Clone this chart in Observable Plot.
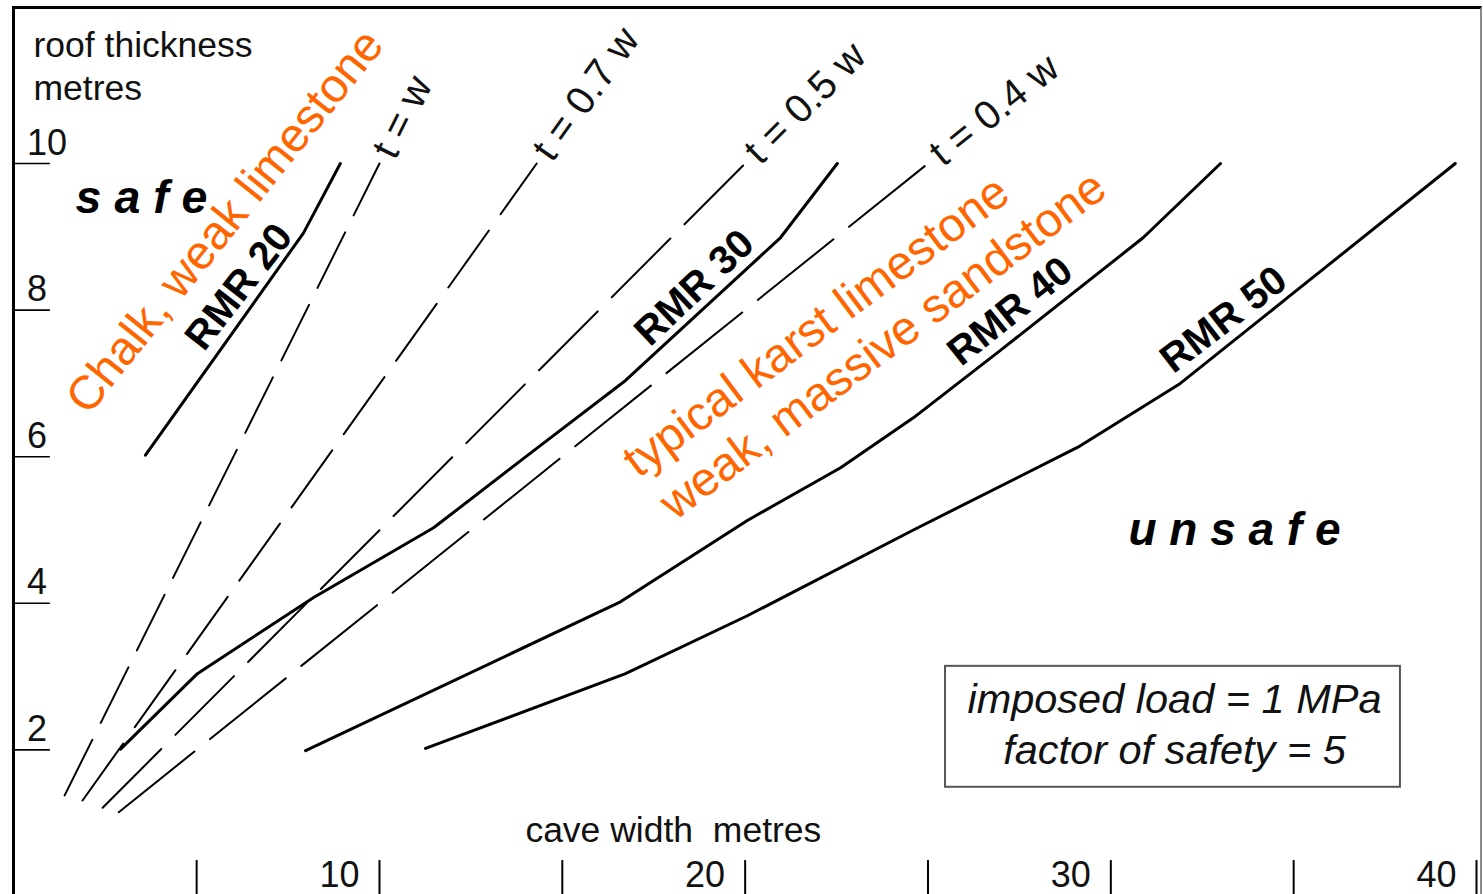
<!DOCTYPE html>
<html><head><meta charset="utf-8">
<script src="https://cdn.jsdelivr.net/npm/d3@7"></script>
<script src="https://cdn.jsdelivr.net/npm/@observablehq/plot@0.6"></script>
<style>
html,body{margin:0;padding:0;background:#fff;}
#wrap{position:relative;width:1483px;height:894px;overflow:hidden;}
#border{position:absolute;left:12px;top:6px;width:1470px;height:910px;border-top:3px solid #000;border-left:3px solid #000;border-right:2px solid #8a8a8a;box-sizing:border-box;pointer-events:none;}
</style></head><body><div id="wrap"><div id="border"></div></div>
<script>
// ---------- data ----------
const xTicks = [5, 10, 15, 20, 25, 30, 35, 40];
const xTickLabels = [10, 20, 30, 40];
const yTicks = [2, 4, 6, 8, 10];

// solid RMR curves: cave width w (m) vs roof thickness t (m)
const rmrNames = ["RMR 20", "RMR 30", "RMR 40", "RMR 50"];
const rmr20W = [3.60, 7.92, 8.93];
const rmr20T = [6.02, 9.05, 10.0];
const rmr30W = [2.92, 5.02, 8.20, 11.48, 14.21, 16.73, 20.97, 22.52];
const rmr30T = [2.01, 3.04, 4.08, 5.03, 6.08, 7.04, 8.99, 10.0];
const rmr40W = [7.98, 16.59, 20.06, 22.61, 24.60, 26.98, 30.89, 33.00];
const rmr40T = [1.99, 4.02, 5.13, 5.85, 6.53, 7.45, 8.99, 10.0];
const rmr50W = [11.26, 16.73, 20.06, 24.60, 29.10, 31.90, 34.91, 39.42];
const rmr50T = [2.02, 3.04, 3.83, 5.00, 6.13, 7.00, 8.20, 10.0];

// dashed t = k·w guide lines (start and end points)
const dashNames = ["t = w", "t = 0.7 w", "t = 0.5 w", "t = 0.4 w"];
const dashStartW = [1.39, 1.88, 2.43, 2.87];
const dashStartT = [1.38, 1.31, 1.21, 1.15];
const dashEndW = [10.0, 14.3, 20.0, 25.0];
const dashEndT = [10.0, 10.0, 10.0, 10.0];

// label anchor positions (data units) and angles (deg)
const rmrLabelW = [5.20, 17.40, 25.90, 31.71];
const rmrLabelT = [7.42, 7.49, 7.22, 7.12];
const rmrLabelAngle = [52, 43.5, 38.7, 37.6];

const rockTexts = ["Chalk, weak limestone", "typical karst limestone", "weak, massive sandstone"];
const rockW = [2.04, 17.08, 18.08];
const rockT = [6.55, 5.70, 5.12];
const rockAngle = [51.3, 36.8, 37.0];

const boxLines = ["imposed load = 1 MPa", "factor of safety = 5"];
const boxLineT = [2.50, 1.81];
const boxCenterW = 31.74;
const boxW = [25.48, 37.92];
const boxT = [1.49, 3.14];

// ---------- build ----------
const xDomain = [0, 40], xRange = [13.3, 1476];
const yDomain = [0, 10], yRange = [896, 163];
const kx = (xRange[1] - xRange[0]) / (xDomain[1] - xDomain[0]);
const ky = (yRange[0] - yRange[1]) / (yDomain[1] - yDomain[0]);

const rmrSeries = [[rmr20W, rmr20T], [rmr30W, rmr30T], [rmr40W, rmr40T], [rmr50W, rmr50T]];
const rmrRows = rmrSeries.flatMap(([W, T], i) => W.map((w, j) => ({name: rmrNames[i], w, t: T[j]})));

const dashPatterns = ["62,19", "70,20", "83,20", "97,20"];
const dashMarks = dashNames.map((n, i) =>
  Plot.line([{w: dashStartW[i], t: dashStartT[i]}, {w: dashEndW[i], t: dashEndT[i]}],
    {x: "w", y: "t", stroke: "#000", strokeWidth: 2, strokeDasharray: dashPatterns[i]}));

// labels continue along each dashed line, a small gap past its end
const gapPx = 9;
const dashLabelRows = dashNames.map((n, i) => {
  const dxp = (dashEndW[i] - dashStartW[i]) * kx;
  const dyp = (dashEndT[i] - dashStartT[i]) * ky;
  const a = Math.atan2(dyp, dxp);
  return {text: n, w: dashEndW[i] + Math.cos(a) * gapPx / kx, t: dashEndT[i] + Math.sin(a) * gapPx / ky, angle: a * 180 / Math.PI};
});

const FONT = "Liberation Sans, Arial, Helvetica, sans-serif";

const marks = [
  // y ticks
  Plot.ruleY(yTicks, {y: d => d, x1: 0, x2: 1.0, stroke: "#000", strokeWidth: 1.6}),
  Plot.text(yTicks, {y: d => d, x: 0.36, text: d => String(d), textAnchor: "start", lineAnchor: "bottom", dy: -9, fontSize: 36, fill: "#111"}),
  // x ticks
  Plot.ruleX(xTicks, {x: d => d, y1: 0, y2: 0.49, stroke: "#000", strokeWidth: 2}),
  Plot.text(xTickLabels, {x: d => d, y: 0.123, text: d => String(d), textAnchor: "end", lineAnchor: "bottom", dx: -20, fontSize: 36, fill: "#111"}),
  // axis titles
  Plot.text(["roof thickness"], {x: 0.54, y: 11.45, text: d => d, textAnchor: "start", lineAnchor: "bottom", fontSize: 35.5, fill: "#111"}),
  Plot.text(["metres"], {x: 0.54, y: 10.86, text: d => d, textAnchor: "start", lineAnchor: "bottom", fontSize: 35.5, fill: "#111"}),
  Plot.text(["cave width  metres"], {x: 13.99, y: 0.737, text: d => d, textAnchor: "start", lineAnchor: "bottom", fontSize: 35.5, fill: "#111"}),
  // dashed guides
  ...dashMarks,
  Plot.text(dashLabelRows, {x: "w", y: "t", text: "text", rotate: d => -d.angle, textAnchor: "start", lineAnchor: "middle", fontSize: 40, fill: "#111"}),
  // RMR curves
  Plot.line(rmrRows, {x: "w", y: "t", z: "name", stroke: "#000", strokeWidth: 3, strokeLinejoin: "round", strokeLinecap: "round"}),
  Plot.text(rmrNames.map((n, i) => ({n, w: rmrLabelW[i], t: rmrLabelT[i], a: rmrLabelAngle[i]})),
    {x: "w", y: "t", text: "n", rotate: d => -d.a, textAnchor: "start", lineAnchor: "bottom", fontSize: 40, fontWeight: "bold", fill: "#000"}),
  // safe / unsafe
  Plot.text(["s a f e"], {x: 1.69, y: 9.33, text: d => d, textAnchor: "start", lineAnchor: "bottom", fontSize: 46.5, fontWeight: "bold", fontStyle: "italic", fill: "#000"}),
  Plot.text(["u n s a f e"], {x: 30.48, y: 4.79, text: d => d, textAnchor: "start", lineAnchor: "bottom", fontSize: 46, fontWeight: "bold", fontStyle: "italic", fill: "#000"}),
  // rock type annotations
  Plot.text(rockTexts.map((s, i) => ({s, w: rockW[i], t: rockT[i], a: rockAngle[i]})),
    {x: "w", y: "t", text: "s", rotate: d => -d.a, textAnchor: "start", lineAnchor: "bottom", fontSize: 47.5, fill: "#ff6600"}),
  // box
  Plot.rect([{x1: boxW[0], x2: boxW[1], y1: boxT[0], y2: boxT[1]}], {x1: "x1", x2: "x2", y1: "y1", y2: "y2", fill: "none", stroke: "#555", strokeWidth: 2}),
  Plot.text(boxLines.map((s, i) => ({s, t: boxLineT[i]})), {x: boxCenterW, y: "t", text: "s", textAnchor: "middle", lineAnchor: "bottom", fontSize: 41.5, fontStyle: "italic", fill: "#111"})
];

const chart = Plot.plot({
  width: 1483,
  height: 894,
  marginTop: 0, marginRight: 0, marginBottom: 0, marginLeft: 0,
  x: {domain: xDomain, range: xRange, axis: null},
  y: {domain: yDomain, range: yRange, axis: null},
  style: {fontFamily: FONT, background: "#fff", overflow: "visible"},
  marks
});
document.getElementById("wrap").prepend(chart);
</script>
</body></html>
